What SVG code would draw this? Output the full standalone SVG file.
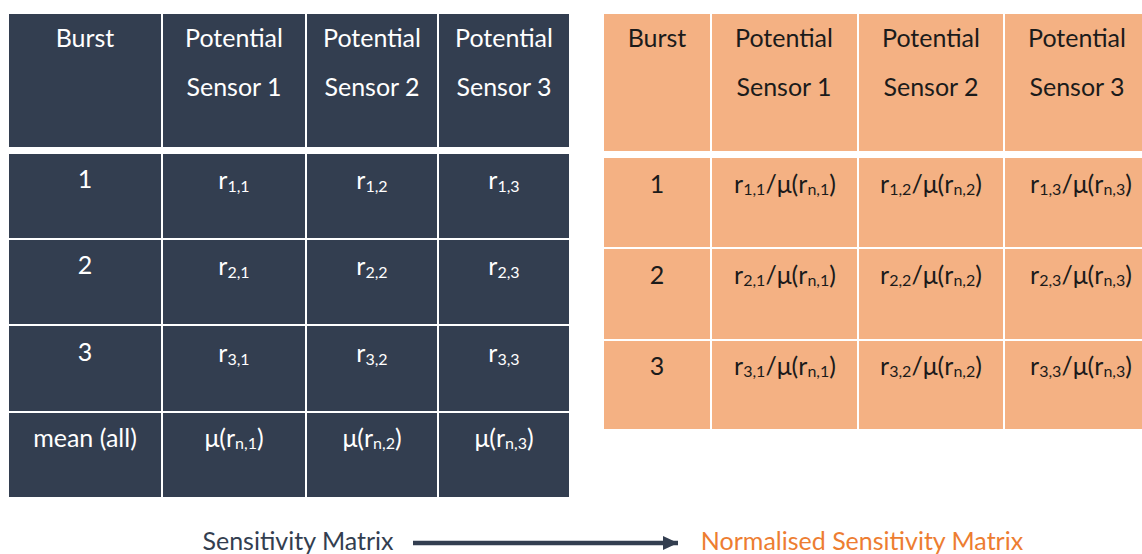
<svg xmlns="http://www.w3.org/2000/svg" width="1142" height="554" viewBox="0 0 1142 554">
<defs>
<style>
.d{fill:#333E50;stroke:#ffffff;stroke-width:2}
.o{fill:#F4B183;stroke:#ffffff;stroke-width:2}
text{font-family:Lato,"Open Sans","DejaVu Sans",sans-serif;font-size:25px;text-anchor:middle}
.tw{fill:#ffffff}
.tb{fill:#1b1b1b}
.s{font-size:16px}
.lab{font-size:25px}
</style>
<marker id="ah" markerUnits="userSpaceOnUse" markerWidth="16" markerHeight="16" refX="15" refY="8" orient="auto">
<path d="M0,1 L15,8 L0,15 Z" fill="#333E50"/>
</marker>
</defs>
<rect width="1142" height="554" fill="#ffffff"/>
<g id="sensitivity-matrix">
<g id="l-h0"><rect class="d" x="8" y="13" width="154" height="135"/><text class="tw" x="85" y="47">Burst</text></g>
<g id="l-h1"><rect class="d" x="162" y="13" width="144" height="135"/><text class="tw" x="234" y="47">Potential</text><text class="tw" x="234" y="96">Sensor 1</text></g>
<g id="l-h2"><rect class="d" x="306" y="13" width="132" height="135"/><text class="tw" x="372" y="47">Potential</text><text class="tw" x="372" y="96">Sensor 2</text></g>
<g id="l-h3"><rect class="d" x="438" y="13" width="132" height="135"/><text class="tw" x="504" y="47">Potential</text><text class="tw" x="504" y="96">Sensor 3</text></g>

<g id="l-r1c0"><rect class="d" x="8" y="153" width="154" height="86"/><text class="tw" x="85" y="188">1</text></g>
<g id="l-r1c1"><rect class="d" x="162" y="153" width="144" height="86"/><text class="tw" x="234" y="189">r<tspan class="s" dy="3">1,1</tspan></text></g>
<g id="l-r1c2"><rect class="d" x="306" y="153" width="132" height="86"/><text class="tw" x="372" y="189">r<tspan class="s" dy="3">1,2</tspan></text></g>
<g id="l-r1c3"><rect class="d" x="438" y="153" width="132" height="86"/><text class="tw" x="504" y="189">r<tspan class="s" dy="3">1,3</tspan></text></g>

<g id="l-r2c0"><rect class="d" x="8" y="239" width="154" height="86"/><text class="tw" x="85" y="274">2</text></g>
<g id="l-r2c1"><rect class="d" x="162" y="239" width="144" height="86"/><text class="tw" x="234" y="275">r<tspan class="s" dy="3">2,1</tspan></text></g>
<g id="l-r2c2"><rect class="d" x="306" y="239" width="132" height="86"/><text class="tw" x="372" y="275">r<tspan class="s" dy="3">2,2</tspan></text></g>
<g id="l-r2c3"><rect class="d" x="438" y="239" width="132" height="86"/><text class="tw" x="504" y="275">r<tspan class="s" dy="3">2,3</tspan></text></g>

<g id="l-r3c0"><rect class="d" x="8" y="325" width="154" height="87"/><text class="tw" x="85" y="361">3</text></g>
<g id="l-r3c1"><rect class="d" x="162" y="325" width="144" height="87"/><text class="tw" x="234" y="362">r<tspan class="s" dy="3">3,1</tspan></text></g>
<g id="l-r3c2"><rect class="d" x="306" y="325" width="132" height="87"/><text class="tw" x="372" y="362">r<tspan class="s" dy="3">3,2</tspan></text></g>
<g id="l-r3c3"><rect class="d" x="438" y="325" width="132" height="87"/><text class="tw" x="504" y="362">r<tspan class="s" dy="3">3,3</tspan></text></g>

<g id="l-r4c0"><rect class="d" x="8" y="412" width="154" height="86"/><text class="tw" x="85" y="447">mean (all)</text></g>
<g id="l-r4c1"><rect class="d" x="162" y="412" width="144" height="86"/><text class="tw" x="234" y="447">μ(r<tspan class="s" dy="2">n,1</tspan><tspan dy="-2">)</tspan></text></g>
<g id="l-r4c2"><rect class="d" x="306" y="412" width="132" height="86"/><text class="tw" x="372" y="447">μ(r<tspan class="s" dy="2">n,2</tspan><tspan dy="-2">)</tspan></text></g>
<g id="l-r4c3"><rect class="d" x="438" y="412" width="132" height="86"/><text class="tw" x="504" y="447">μ(r<tspan class="s" dy="2">n,3</tspan><tspan dy="-2">)</tspan></text></g>
</g>

<g id="normalised-matrix">
<g id="r-h0"><rect class="o" x="603" y="13" width="108" height="139"/><text class="tb" x="657" y="47">Burst</text></g>
<g id="r-h1"><rect class="o" x="711" y="13" width="147" height="139"/><text class="tb" x="784" y="47">Potential</text><text class="tb" x="784" y="96">Sensor 1</text></g>
<g id="r-h2"><rect class="o" x="858" y="13" width="146" height="139"/><text class="tb" x="931" y="47">Potential</text><text class="tb" x="931" y="96">Sensor 2</text></g>
<g id="r-h3"><rect class="o" x="1004" y="13" width="146" height="139"/><text class="tb" x="1077" y="47">Potential</text><text class="tb" x="1077" y="96">Sensor 3</text></g>

<g id="r-r1c0"><rect class="o" x="603" y="157" width="108" height="91"/><text class="tb" x="657" y="193">1</text></g>
<g id="r-r1c1"><rect class="o" x="711" y="157" width="147" height="91"/><text class="tb" x="785" y="193">r<tspan class="s" dy="2">1,1</tspan><tspan dy="-2">/μ(r</tspan><tspan class="s" dy="2">n,1</tspan><tspan dy="-2">)</tspan></text></g>
<g id="r-r1c2"><rect class="o" x="858" y="157" width="146" height="91"/><text class="tb" x="931" y="193">r<tspan class="s" dy="2">1,2</tspan><tspan dy="-2">/μ(r</tspan><tspan class="s" dy="2">n,2</tspan><tspan dy="-2">)</tspan></text></g>
<g id="r-r1c3"><rect class="o" x="1004" y="157" width="146" height="91"/><text class="tb" x="1081" y="193">r<tspan class="s" dy="2">1,3</tspan><tspan dy="-2">/μ(r</tspan><tspan class="s" dy="2">n,3</tspan><tspan dy="-2">)</tspan></text></g>

<g id="r-r2c0"><rect class="o" x="603" y="248" width="108" height="92"/><text class="tb" x="657" y="284">2</text></g>
<g id="r-r2c1"><rect class="o" x="711" y="248" width="147" height="92"/><text class="tb" x="785" y="284">r<tspan class="s" dy="2">2,1</tspan><tspan dy="-2">/μ(r</tspan><tspan class="s" dy="2">n,1</tspan><tspan dy="-2">)</tspan></text></g>
<g id="r-r2c2"><rect class="o" x="858" y="248" width="146" height="92"/><text class="tb" x="931" y="284">r<tspan class="s" dy="2">2,2</tspan><tspan dy="-2">/μ(r</tspan><tspan class="s" dy="2">n,2</tspan><tspan dy="-2">)</tspan></text></g>
<g id="r-r2c3"><rect class="o" x="1004" y="248" width="146" height="92"/><text class="tb" x="1081" y="284">r<tspan class="s" dy="2">2,3</tspan><tspan dy="-2">/μ(r</tspan><tspan class="s" dy="2">n,3</tspan><tspan dy="-2">)</tspan></text></g>

<g id="r-r3c0"><rect class="o" x="603" y="340" width="108" height="90"/><text class="tb" x="657" y="375">3</text></g>
<g id="r-r3c1"><rect class="o" x="711" y="340" width="147" height="90"/><text class="tb" x="785" y="375">r<tspan class="s" dy="2">3,1</tspan><tspan dy="-2">/μ(r</tspan><tspan class="s" dy="2">n,1</tspan><tspan dy="-2">)</tspan></text></g>
<g id="r-r3c2"><rect class="o" x="858" y="340" width="146" height="90"/><text class="tb" x="931" y="375">r<tspan class="s" dy="2">3,2</tspan><tspan dy="-2">/μ(r</tspan><tspan class="s" dy="2">n,2</tspan><tspan dy="-2">)</tspan></text></g>
<g id="r-r3c3"><rect class="o" x="1004" y="340" width="146" height="90"/><text class="tb" x="1081" y="375">r<tspan class="s" dy="2">3,3</tspan><tspan dy="-2">/μ(r</tspan><tspan class="s" dy="2">n,3</tspan><tspan dy="-2">)</tspan></text></g>
</g>

<g id="label-left"><text class="lab" x="298" y="550" fill="#333E50">Sensitivity Matrix</text></g>
<g id="label-right"><text class="lab" x="862" y="550" fill="#ED7D31">Normalised Sensitivity Matrix</text></g>

<g id="connectors">
<line x1="413" y1="543" x2="678" y2="543" stroke="#333E50" stroke-width="4.5" marker-end="url(#ah)"/>
</g>
</svg>
